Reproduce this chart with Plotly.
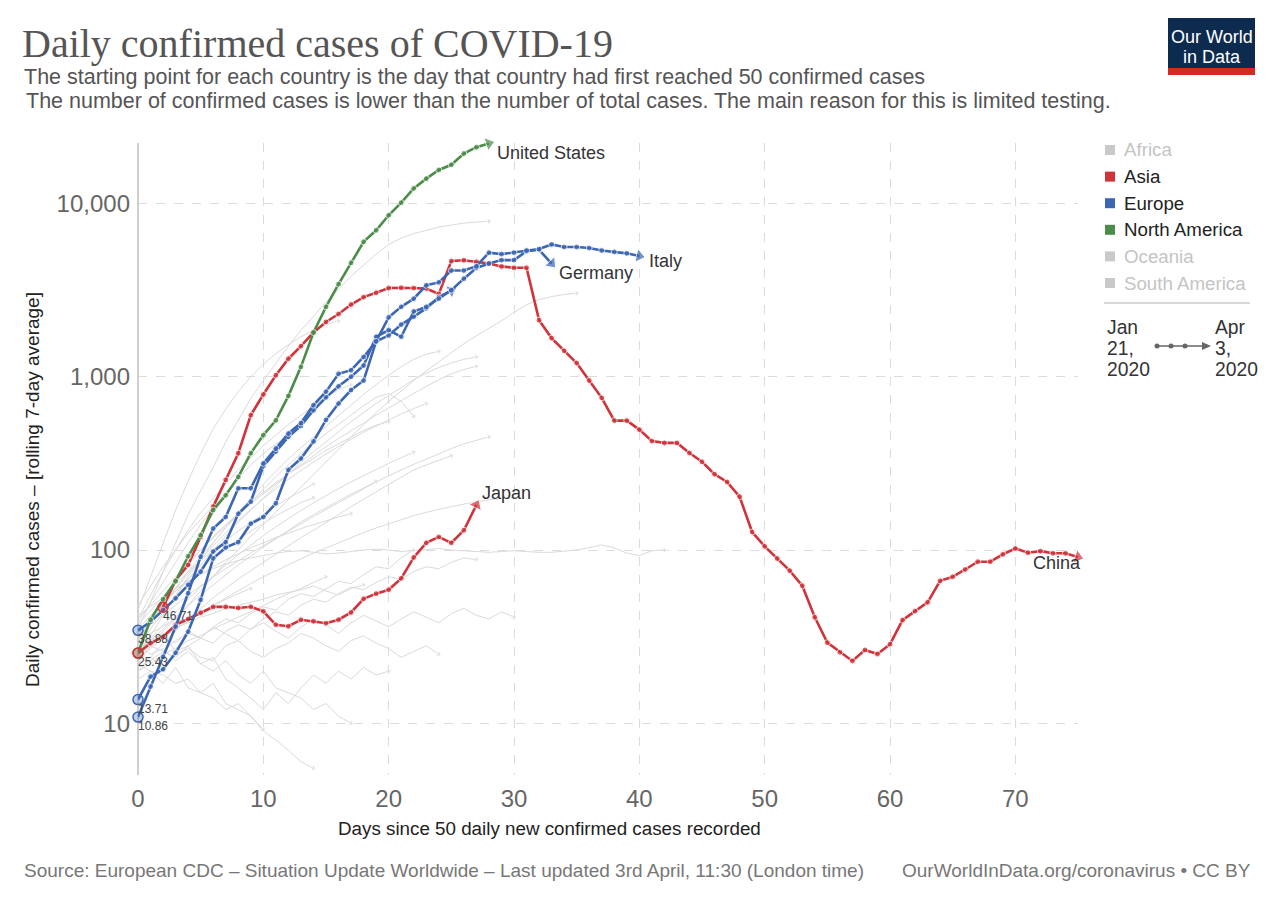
import math

import plotly.graph_objects as go

SANS = "Liberation Sans, Arial, sans-serif"
SERIF = "Liberation Serif, Times New Roman, serif"

ASIA_RED = "#d0333a"
EUROPE_BLUE = "#3b66b3"
NA_GREEN = "#4b8c48"
FADED = "#c9c9c9"
GRAY_LINE = "#dadada"

# highlighted countries: daily confirmed cases (rolling 7-day average)
china_start = 2
china_cases = [46.71, 67, 82, 119, 178, 254, 362, 600, 790, 1020, 1270, 1500, 1800, 2070, 2300, 2610,
               2880, 3050, 3250, 3260, 3250, 3230, 3000, 4650, 4700, 4600, 4500, 4330, 4250, 4250,
               2120, 1670, 1410, 1200, 950, 755, 558, 558, 495, 425, 415, 415, 363, 323, 274, 247,
               203, 127, 105, 89.3, 76, 62.2, 40.9, 29.2, 25.7, 22.9, 26.5, 25.1, 28.6, 39.4, 44.4,
               49.9, 66.4, 70, 77.2, 85.6, 85.6, 94.4, 102, 96.4, 98.5, 95.7, 95.7, 91]
japan_cases = [25.43, 29, 31.5, 37, 40, 43.5, 47, 47, 46.3, 47, 44.3, 37, 36.3, 39.6, 38.8, 37.8,
               39.6, 43.6, 52.3, 56, 59, 68.6, 90.6, 110, 119, 110, 130, 182]
us_cases = [25.43, 39.6, 52, 66, 92, 122, 170, 207, 264, 362, 460, 560, 775, 1140, 1800, 2530, 3420,
            4540, 6000, 7000, 8540, 10100, 12200, 13900, 15600, 16700, 19400, 21100, 22200]
italy_cases = [10.86, 16.3, 24.2, 36.1, 56.3, 91.5, 133, 155, 227, 227, 316, 385, 470, 540, 685, 820,
               1040, 1090, 1300, 1600, 2200, 2530, 2820, 3370, 3500, 4100, 4100, 4340, 5200, 5100,
               5200, 5350, 5450, 5800, 5600, 5600, 5530, 5350, 5250, 5150, 4970]
germany_cases = [34.4, 38.5, 45, 52.6, 63, 75, 98, 111, 162, 190, 305, 370, 450, 520, 640, 760, 880,
                 1000, 1160, 1700, 1860, 1700, 2380, 2530, 2820, 3160, 3680, 4240, 4500, 4710, 4710,
                 5300, 5400, 4500]
europe_other_cases = [13.71, 18.6, 20.5, 25.5, 33.8, 51.6, 89.5, 103.5, 111, 142, 155, 186, 290, 337,
                      423, 563, 700, 838, 950, 1600, 1730, 2000, 2220, 2480, 2880, 3140]

# value labels shown at each starting point
china_start_label = "46.71"
japan_start_label = "25.43"
italy_start_label = "10.86"
germany_start_label = "38.88"
europe_other_start_label = "13.71"

# all other countries, drawn faded
gray_series = [
    [35, 50, 75, 110, 160, 220, 300, 420, 560, 750, 950, 1200, 1500, 1850, 2250, 2700, 3200, 3800,
     4400, 5100, 5800, 6300, 6700, 7000, 7300, 7500, 7700, 7800, 7900],
    [22, 28, 34, 40, 48, 58, 70, 85, 100, 120, 140, 165, 195, 230, 270, 320, 380, 450, 530, 620, 720,
     830, 950, 1080, 1220, 1380, 1550, 1720, 1900, 2100, 2350, 2600, 2780, 2900, 2980, 3030],
    [30, 38, 48, 58, 66, 72, 78, 83, 87, 90, 93, 96, 98, 99, 97, 95, 96, 98, 100, 101, 100, 98, 99,
     101, 102, 100, 99, 98, 97, 98, 99, 98, 97, 97, 98, 100, 103, 107, 103, 96, 93, 99, 100],
    [28, 35, 44, 55, 68, 82, 100, 120, 145, 170, 200, 235, 275, 320, 370, 420, 480, 550, 620, 700,
     780, 870, 960, 1050, 1130, 1200, 1260, 1300],
    [40, 48, 58, 70, 85, 100, 118, 138, 160, 185, 210, 240, 275, 310, 350, 395, 440, 490, 540, 600,
     660, 730, 800, 880, 960, 1040, 1100, 1150],
    [45, 70, 110, 170, 250, 360, 500, 650, 820, 1000, 1180, 1360, 1530, 1700, 1850, 2000, 2100],
    [30, 38, 48, 60, 75, 92, 110, 135, 160, 190, 225, 265, 310, 360, 410, 470, 530, 600, 680, 760,
     800, 720, 590],
    [25, 32, 42, 55, 70, 88, 110, 135, 165, 200, 240, 285, 335, 390, 450, 520, 600, 690, 790, 900,
     1020, 1140, 1260, 1350, 1400],
    [30, 40, 52, 66, 82, 100, 120, 140, 165, 190, 215, 245, 275, 305, 340, 375, 410, 450, 490, 525, 550],
    [35, 42, 50, 58, 68, 78, 90, 100, 115, 128, 142, 158, 172, 188, 200],
    [20, 24, 29, 34, 40, 46, 53, 60, 68, 76, 85, 95, 106, 118, 130, 145, 160, 178, 196, 215, 238, 262,
     290, 310, 330, 350],
    [28, 30, 33, 36, 38, 41, 43, 46, 48, 50, 52, 55, 57, 59, 62, 58, 55, 60, 63],
    [22, 20, 19, 17, 18, 15, 14, 12, 13, 11, 9, 8, 7, 6, 5.5],
    [18, 20, 17, 21, 16, 15, 17, 13, 12, 11, 9.2],
    [24, 27, 31, 35, 39, 43, 48, 53, 58, 64, 70, 76, 82, 89, 96, 103, 110, 118, 126, 134, 142, 150,
     158, 165, 172, 178, 184, 190, 195, 198, 200],
    [40, 55, 75, 100, 130, 165, 200, 240, 290, 340, 400, 460, 530, 600, 680, 760, 840, 900],
    [38, 50, 65, 85, 110, 140, 175, 215, 260, 310, 360, 410, 450],
    [25, 28, 26, 30, 33, 31, 36, 40, 38, 43, 47, 45, 52, 56, 54, 60, 66, 64, 72, 80, 78, 90, 100],
    [30, 33, 36, 40, 38, 44, 48, 52, 56, 60],
    [26, 30, 35, 41, 48, 55, 63, 72, 82, 92, 104, 116, 130, 145, 160, 176, 192, 210, 228, 248, 268,
     290, 312, 335, 360, 385, 410, 430, 450],
    [32, 37, 42, 48, 55, 62, 70, 78, 87, 96, 106, 117, 129, 142, 156, 171, 187, 205, 225, 250],
    [20, 22, 25, 27, 30, 32, 35, 38, 41, 44, 48, 52, 56, 60, 65, 70],
    [22, 24, 21, 25, 27, 24, 23, 28, 30, 26, 24, 27, 29, 33, 31, 28, 26, 30, 32, 29, 27, 24, 26, 28, 25],
    [30, 28, 32, 29, 34, 31, 36, 33, 30, 35, 38, 34, 31, 36, 40, 37, 33, 38, 42, 39, 36, 40, 44, 41,
     38, 43, 46, 42, 40, 44, 41],
    [35, 30, 33, 26, 28, 22, 24, 18, 16, 14, 12, 15, 13, 16, 19, 17, 20, 18, 21, 19, 20],
    [48, 62, 80, 100, 125, 150, 180],
    [26, 31, 37, 44, 52, 61, 71, 82, 94, 107, 121, 136, 152, 169, 187, 206, 226, 247, 269, 292, 316,
     341, 367],
    [42, 47, 53, 60, 66, 73, 80, 88, 95, 103, 110, 118, 125, 133, 140, 148, 155, 162],
    [33, 40, 49, 60, 73, 88, 106, 126, 148, 172, 198, 226, 256, 288, 322, 358, 396, 436, 478, 520, 565,
     610, 655, 700],
    [21, 23, 26, 24, 28, 31, 29, 34, 37, 35, 40, 44, 42, 48, 52, 50, 56, 61, 59, 65, 70, 68, 75, 80,
     78, 85, 90, 88],
    [37, 45, 54, 64, 75, 87, 100, 114, 129, 145, 162, 180, 199, 219, 240],
    [28, 25, 27, 23, 26, 22, 20, 23, 19, 17, 20, 16, 15, 14, 12, 13, 11, 10],
]

x_ticks = [0, 10, 20, 30, 40, 50, 60, 70]
y_ticks = [10, 100, 1000, 10000]
y_tick_labels = ["10", "100", "1,000", "10,000"]

legend_names = ["Africa", "Asia", "Europe", "North America", "Oceania", "South America"]
legend_colors = [FADED, ASIA_RED, EUROPE_BLUE, NA_GREEN, FADED, FADED]
legend_active = [False, True, True, True, False, False]

# plot area in pixels, used to place the text around the chart
PLOT_L, PLOT_R, PLOT_T, PLOT_B = 138, 1078, 143, 775


def px(x):
    return (x - PLOT_L) / (PLOT_R - PLOT_L)


def py(y):
    return (PLOT_B - y) / (PLOT_B - PLOT_T)


def add_line(fig, start, values, color, width, dot, arrow):
    days = list(range(start, start + len(values)))
    n = len(values)
    fig.add_trace(go.Scatter(
        x=days, y=values, mode="lines+markers",
        line=dict(color=color, width=width),
        marker=dict(color=color, size=[dot] * (n - 1) + [arrow],
                    symbol=["circle"] * (n - 1) + ["triangle-up"], angleref="previous"),
        cliponaxis=False, hoverinfo="skip",
    ))
    return days


def add_start(fig, day, value, color, fill, label):
    fig.add_trace(go.Scatter(
        x=[day], y=[value], mode="markers",
        marker=dict(size=10, color=fill, line=dict(color=color, width=1.5)),
        cliponaxis=False, hoverinfo="skip",
    ))
    if label:
        fig.add_annotation(x=day, y=math.log10(value), text=label, showarrow=False, xanchor="left",
                           yanchor="middle", xshift=-2, yshift=-9,
                           font=dict(size=12, color="#444", family=SANS))


def text(fig, x, y, s, size, color="#333", xanchor="left", family=SANS, **kw):
    fig.add_annotation(x=px(x), y=py(y), xref="paper", yref="paper", text=s, showarrow=False,
                       xanchor=xanchor, yanchor="middle", font=dict(size=size, color=color, family=family),
                       **kw)


def plot_chart():
    fig = go.Figure()

    for values in gray_series:
        add_line(fig, 0, values, GRAY_LINE, 1, 0.1, 6)

    add_line(fig, china_start, china_cases, ASIA_RED, 2.6, 6, 12)
    add_line(fig, 0, japan_cases, ASIA_RED, 2.6, 6, 12)
    add_line(fig, 0, europe_other_cases, EUROPE_BLUE, 2.6, 6, 12)
    add_line(fig, 0, germany_cases, EUROPE_BLUE, 2.6, 6, 12)
    add_line(fig, 0, italy_cases, EUROPE_BLUE, 2.6, 6, 12)
    add_line(fig, 0, us_cases, NA_GREEN, 2.6, 6, 12)

    add_start(fig, china_start, china_cases[0], ASIA_RED, "rgba(208,51,58,0.3)", china_start_label)
    add_start(fig, 0, us_cases[0], NA_GREEN, "rgba(75,140,72,0.3)", "")
    add_start(fig, 0, japan_cases[0], ASIA_RED, "rgba(208,51,58,0.3)", japan_start_label)
    add_start(fig, 0, germany_cases[0], EUROPE_BLUE, "rgba(59,102,179,0.3)", germany_start_label)
    add_start(fig, 0, europe_other_cases[0], EUROPE_BLUE, "rgba(59,102,179,0.3)", europe_other_start_label)
    add_start(fig, 0, italy_cases[0], EUROPE_BLUE, "rgba(59,102,179,0.3)", italy_start_label)

    # country names next to the line ends
    ends = [
        ("United States", len(us_cases) - 1, us_cases[-1], 6, -10, "left"),
        ("Italy", len(italy_cases) - 1, italy_cases[-1], 8, -5, "left"),
        ("Germany", len(germany_cases) - 1, germany_cases[-1], 5, -9, "left"),
        ("Japan", len(japan_cases) - 1, japan_cases[-1], 4, 12, "left"),
        ("China", china_start + len(china_cases) - 1, china_cases[-1], 5, -6, "right"),
    ]
    for name, day, value, dx, dy, anchor in ends:
        fig.add_annotation(x=day, y=math.log10(value), text=name, showarrow=False, xanchor=anchor,
                           yanchor="middle", xshift=dx, yshift=dy,
                           font=dict(size=18, color="#333", family=SANS))

    # title block
    text(fig, 20, 43, "Daily confirmed cases of COVID-19", 40, "#555", family=SERIF)
    text(fig, 22, 77, "The starting point for each country is the day that country had first reached "
                      "50 confirmed cases", 21.5, "#555")
    text(fig, 24, 101, "The number of confirmed cases is lower than the number of total cases. "
                       "The main reason for this is limited testing.", 21.5, "#555")

    # axis titles
    text(fig, 549, 828, "Days since 50 daily new confirmed cases recorded", 18.8, "#222", xanchor="center")
    fig.add_annotation(x=px(32), y=py(490), xref="paper", yref="paper", showarrow=False, textangle=-90,
                       text="Daily confirmed cases – [rolling 7-day average]", xanchor="center",
                       yanchor="middle", font=dict(size=19, color="#222", family=SANS))

    # footer
    text(fig, 22, 870, "Source: European CDC – Situation Update Worldwide – Last updated 3rd April, "
                       "11:30 (London time)", 19, "#777")
    text(fig, 1253, 870, "OurWorldInData.org/coronavirus • CC BY", 19, "#777", xanchor="right")

    # logo
    fig.add_shape(type="rect", xref="paper", yref="paper", x0=px(1168), x1=px(1255), y0=py(74), y1=py(18),
                  fillcolor="#0d2b4f", line=dict(width=0), layer="above")
    fig.add_shape(type="rect", xref="paper", yref="paper", x0=px(1168), x1=px(1255), y0=py(75), y1=py(68),
                  fillcolor="#d42b21", line=dict(width=0), layer="above")
    text(fig, 1211.5, 37, "Our World", 18, "white", xanchor="center")
    text(fig, 1211.5, 57, "in Data", 18, "white", xanchor="center")

    # continent legend
    for i, (name, color, active) in enumerate(zip(legend_names, legend_colors, legend_active)):
        y = 150 + i * 26.6
        fig.add_shape(type="rect", xref="paper", yref="paper", x0=px(1105), x1=px(1115),
                      y0=py(y + 5), y1=py(y - 5), fillcolor=color, line=dict(width=0))
        text(fig, 1122, y, name, 18.7, "#222" if active else "#c4c4c4")
    fig.add_shape(type="line", xref="paper", yref="paper", x0=px(1104), x1=px(1250), y0=py(303), y1=py(303),
                  line=dict(color="#ccc", width=1.5))

    # time range
    for i, (left, right) in enumerate([("Jan", "Apr"), ("21,", "3,"), ("2020", "2020")]):
        text(fig, 1105, 327 + i * 21, left, 19.3, "#333")
        text(fig, 1213, 327 + i * 21, right, 19.3, "#333")
    fig.add_shape(type="line", xref="paper", yref="paper", x0=px(1156), x1=px(1205), y0=py(346), y1=py(346),
                  line=dict(color="#666", width=1.5))
    for cx in [1157, 1171, 1185]:
        fig.add_shape(type="circle", xref="paper", yref="paper", x0=px(cx - 2.5), x1=px(cx + 2.5),
                      y0=py(348.5), y1=py(343.5), fillcolor="#666", line=dict(width=0))
    fig.add_shape(type="path", xref="paper", yref="paper",
                  path=f"M {px(1202)} {py(342)} L {px(1211)} {py(346)} L {px(1202)} {py(350)} Z",
                  fillcolor="#666", line=dict(width=0))

    fig.update_xaxes(range=[0, 75], tickvals=x_ticks, showgrid=True, gridcolor="#dcdcdc", griddash="dash",
                     gridwidth=1, zeroline=True, zerolinecolor="#cfcfcf", zerolinewidth=2, showline=False,
                     ticks="", ticklabelstandoff=7, tickfont=dict(size=24, color="#666", family=SANS))
    fig.update_yaxes(type="log", range=[0.7017, 4.3486], tickvals=y_ticks, ticktext=y_tick_labels,
                     showgrid=True, gridcolor="#dcdcdc", griddash="dash", gridwidth=1, zeroline=False,
                     showline=False, ticks="", ticklabelstandoff=7,
                     tickfont=dict(size=24, color="#666", family=SANS))

    fig.update_layout(
        width=1280, height=904,
        margin=dict(l=PLOT_L, r=1280 - PLOT_R, t=PLOT_T, b=904 - PLOT_B),
        plot_bgcolor="white", paper_bgcolor="white",
        showlegend=False, hovermode=False,
        font=dict(family=SANS, color="#666"),
    )

    # the page adds a default body margin; drop it so the chart sits at the window's corner
    fig.write_html("out.html", config={"displayModeBar": False},
                   post_script="document.body.style.margin = '0';")


if __name__ == '__main__':
    plot_chart()
